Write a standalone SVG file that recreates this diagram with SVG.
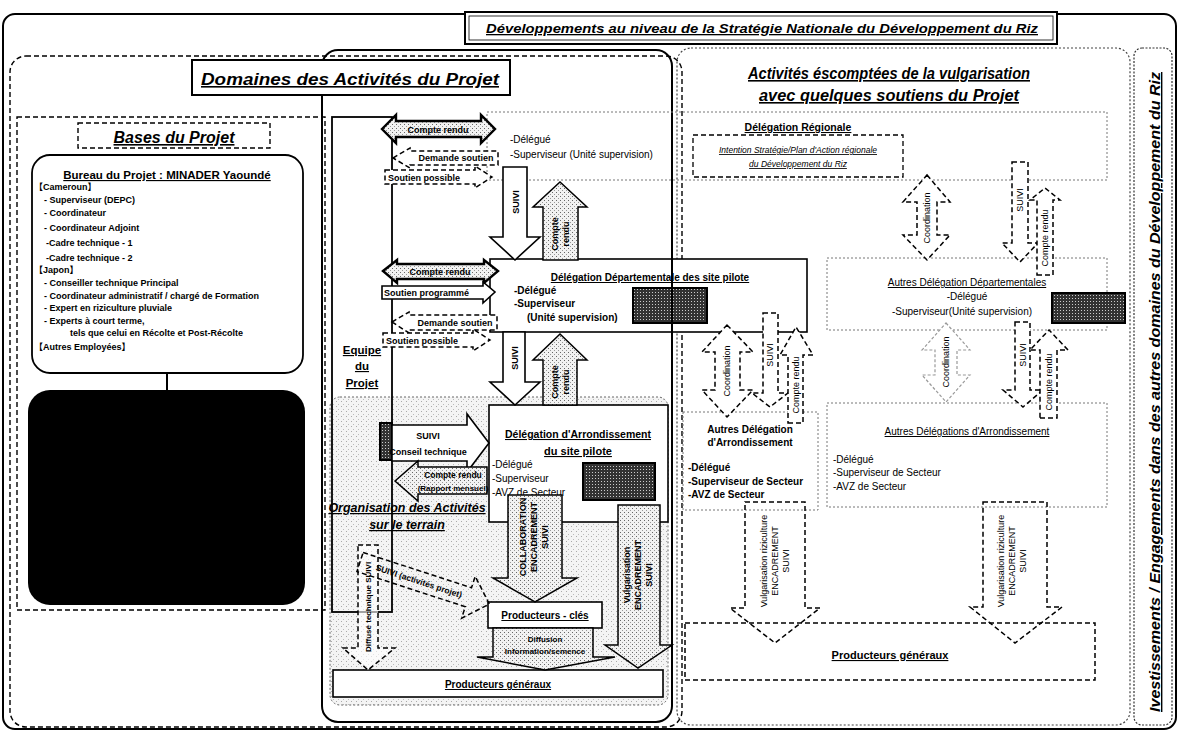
<svg xmlns="http://www.w3.org/2000/svg" width="1180" height="733" viewBox="0 0 1180 733">
<defs>
<pattern id="stip" width="4" height="4" patternUnits="userSpaceOnUse"><rect width="4" height="4" fill="#f2f2f2"/><rect x="0" y="0" width="1" height="1" fill="#666"/><rect x="2" y="2" width="1" height="1" fill="#999"/></pattern>
<pattern id="stipL" width="5" height="5" patternUnits="userSpaceOnUse"><rect width="5" height="5" fill="#f4f4f4"/><rect x="1" y="1" width="1" height="1" fill="#aaa"/><rect x="3" y="4" width="1" height="1" fill="#bbb"/></pattern>
<pattern id="stipD" width="3" height="3" patternUnits="userSpaceOnUse"><rect width="3" height="3" fill="#333"/><rect x="1" y="1" width="1" height="1" fill="#ccc"/></pattern>
</defs>
<style>
text{font-family:"Liberation Sans",Arial,"Noto Sans CJK JP",sans-serif;fill:#000}
.b{font-weight:bold}.i{font-style:italic}.u{text-decoration:underline}
.m{text-anchor:middle}
.s9{font-size:9px}.s10{font-size:10px}.s11{font-size:11px}
.solid{fill:#fff;stroke:#000;stroke-width:1.6}
.thick{fill:url(#stip);stroke:#000;stroke-width:2.4}
.stp{fill:url(#stip);stroke:#000;stroke-width:1.5}
.dash{fill:#fff;stroke:#000;stroke-width:1.5;stroke-dasharray:5 3}
.dashd{fill:none;stroke:#000;stroke-width:1.4;stroke-dasharray:5 3}
.lite{fill:#fff;stroke:#999;stroke-width:1.2;stroke-dasharray:3 2}
.dark{fill:url(#stipD);stroke:#000;stroke-width:2}
</style>

<g id="frames">
<rect x="3" y="14" width="1173" height="715" rx="12" fill="#fff" stroke="#000" stroke-width="2"/>
<rect x="10" y="56" width="672" height="671" rx="16" class="dashd"/>
<rect x="677" y="48" width="453" height="677" rx="14" fill="none" stroke="#444" stroke-width="1.2" stroke-dasharray="2 2"/>
<rect x="1134" y="48" width="38" height="677" rx="8" fill="none" stroke="#333" stroke-width="1.2" stroke-dasharray="2 1.5"/>
<rect x="322" y="50" width="350" height="672" rx="16" fill="none" stroke="#000" stroke-width="2"/>
<rect x="330" y="397" width="338" height="308" rx="10" fill="url(#stipL)" stroke="#666" stroke-width="1" stroke-dasharray="2 2"/>
<rect x="17" y="117" width="308" height="493" class="dashd"/>
</g>

<g id="banner">
<rect x="465" y="12" width="592" height="32" fill="#fff" stroke="#000" stroke-width="2"/>
<rect x="469" y="16" width="584" height="24" fill="none" stroke="#000" stroke-width="0.8"/>
<text x="762" y="33" class="m b i u" font-size="13" textLength="552" lengthAdjust="spacingAndGlyphs">Développements au niveau de la Stratégie  Nationale du Développement du Riz</text>
</g>

<g id="title-domaines">
<rect x="192" y="60" width="318" height="35" fill="#fff" stroke="#000" stroke-width="2"/>
<text x="350" y="85" class="m b i u" font-size="16" textLength="298" lengthAdjust="spacingAndGlyphs">Domaines des Activités du Projet</text>
</g>

<g id="title-vulg">
<text x="889" y="79" class="m b i u" font-size="16" textLength="282" lengthAdjust="spacingAndGlyphs">Activités éscomptées de la vulgarisation</text>
<text x="889" y="101" class="m b i u" font-size="16" textLength="260" lengthAdjust="spacingAndGlyphs">avec quelques soutiens du Projet</text>
</g>

<g id="title-invest">
<text transform="translate(1160,392) rotate(-90)" x="0" y="0" class="m b i u" font-size="14" textLength="640" lengthAdjust="spacingAndGlyphs">Ivestissements / Engagements dans des autres domaines du Développement du Riz</text>
</g>

<g id="bases-title">
<rect x="78" y="123" width="192" height="25" class="dashd"/>
<text x="174" y="143" class="m b i u" font-size="16">Bases du Projet</text>
</g>

<g id="bureau">
<rect x="32" y="155" width="271" height="218" rx="18" fill="#fff" stroke="#000" stroke-width="1.8"/>
<text x="167" y="179" class="m b u" font-size="11.5">Bureau du Projet : MINADER Yaoundé</text>
<g class="b" font-size="9">
<text x="34" y="190">【Cameroun】</text>
<text x="44" y="203">- Superviseur (DEPC)</text>
<text x="44" y="216">- Coordinateur</text>
<text x="44" y="231">- Coordinateur Adjoint</text>
<text x="46" y="246">-Cadre technique - 1</text>
<text x="46" y="261">-Cadre technique - 2</text>
<text x="34" y="273">【Japon】</text>
<text x="44" y="286">- Conseiller technique Principal</text>
<text x="44" y="299">- Coordinateur administratif / chargé de Formation</text>
<text x="44" y="311">- Expert en riziculture pluviale</text>
<text x="44" y="324">- Experts à court terme,</text>
<text x="70" y="336">tels que celui en Récolte et Post-Récolte</text>
<text x="34" y="350">【Autres Employées】</text>
</g>
</g>
<g id="blackbox">
<line x1="167" y1="373" x2="167" y2="390" stroke="#000" stroke-width="2"/>
<rect x="28" y="390" width="277" height="215" rx="22" fill="#000"/>
</g>

<g id="equipe">
<rect x="332" y="117" width="60" height="495" fill="none" stroke="#000" stroke-width="1.8"/>
<text x="362" y="354" class="m b u" font-size="11.5">Equipe</text>
<text x="362" y="370" class="m b u" font-size="11.5">du</text>
<text x="362" y="387" class="m b u" font-size="11.5">Projet</text>
</g>
<g id="organisation">
<text x="407" y="512" class="m b i u" font-size="12.5">Organisation des Activités</text>
<text x="407" y="529" class="m b i u" font-size="12.5">sur le terrain</text>
</g>

<g id="regionale">
<rect x="487" y="112" width="620" height="68" fill="none" stroke="#777" stroke-width="1" stroke-dasharray="2 2"/>
<text x="510" y="143" class="s10">-Délégué</text>
<text x="510" y="158" class="s10">-Superviseur (Unité supervision)</text>
<text x="798" y="131" class="m b u" font-size="10.5">Délégation Régionale</text>
<rect x="693" y="135" width="210" height="42" fill="#fff" stroke="#000" stroke-width="1.3" stroke-dasharray="5 3"/>
<text x="798" y="153" class="m i u" font-size="8.5">Intention Stratégie/Plan d'Action régionale</text>
<text x="798" y="167" class="m i u" font-size="8.5">du Développement du Riz</text>
</g>

<g id="dept">
<rect x="490" y="259" width="317" height="73" fill="#fff" stroke="#000" stroke-width="1.6"/>
<text x="650" y="281" class="m b u s10">Délégation Départementale des site pilote</text>
<text x="514" y="294" class="b s10">-Délégué</text>
<text x="514" y="307" class="b s10">-Superviseur</text>
<text x="527" y="321" class="b s10">(Unité supervision)</text>
<rect x="633" y="288" width="74" height="35" class="dark"/>
<line x1="672" y1="259" x2="672" y2="332" stroke="#000" stroke-width="2"/>
</g>

<g id="arr">
<rect x="489" y="405" width="179" height="117" fill="#fff" stroke="#000" stroke-width="1.6"/>
<text x="578" y="438" class="m b u" font-size="10.5">Délégation d'Arrondissement</text>
<text x="578" y="455" class="m b u" font-size="11">du site pilote</text>
<text x="492" y="468" class="s10">-Délégué</text>
<text x="492" y="482" class="s10">-Superviseur</text>
<text x="492" y="496" class="s10">-AVZ de Secteur</text>
<rect x="583" y="463" width="72" height="37" class="dark"/>
</g>

<g id="prodcles">
<rect x="488" y="602" width="114" height="26" fill="#fff" stroke="#000" stroke-width="1.6"/>
<text x="545" y="619" class="m b u s10">Producteurs - clés</text>
</g>
<g id="prodgen1">
<rect x="333" y="670" width="330" height="27" fill="#fff" stroke="#000" stroke-width="1.6"/>
<text x="498" y="688" class="m b u s10">Producteurs généraux</text>
</g>

<g id="autresdept">
<rect x="827" y="258" width="280" height="72" fill="#fff" stroke="#777" stroke-width="1" stroke-dasharray="2 2"/>
<text x="967" y="286" class="m u s10">Autres Délégation Départementales</text>
<text x="967" y="300" class="m s10">-Délégué</text>
<text x="962" y="315" class="m s10">-Superviseur(Unité supervision)</text>
<rect x="1052" y="293" width="73" height="30" class="dark"/>
</g>
<g id="autresarr1">
<rect x="683" y="412" width="135" height="98" fill="#fff" stroke="#777" stroke-width="1" stroke-dasharray="2 2"/>
<text x="750" y="433" class="m b s10">Autres Délégation</text>
<text x="750" y="446" class="m b s10">d'Arrondissement</text>
<text x="688" y="471" class="b s10">-Délégué</text>
<text x="688" y="485" class="b s10">-Superviseur de Secteur</text>
<text x="688" y="498" class="b s10">-AVZ de Secteur</text>
</g>
<g id="autresarr2">
<rect x="827" y="403" width="280" height="104" fill="#fff" stroke="#777" stroke-width="1" stroke-dasharray="2 2"/>
<text x="967" y="435" class="m u s10">Autres Délégations d'Arrondissement</text>
<text x="833" y="463" class="s10">-Délégué</text>
<text x="833" y="476" class="s10">-Superviseur de Secteur</text>
<text x="833" y="490" class="s10">-AVZ de Secteur</text>
</g>
<g id="prodgen2">
<rect x="685" y="623" width="410" height="57" class="dash"/>
<text x="890" y="659" class="m b u s11">Producteurs généraux</text>
</g>

<g id="connectors">
<polygon class="thick" points="382,129 396,115 396,121 481,121 481,115 495,129 481,143 481,137 396,137 396,143"/>
<text x="438" y="133" class="m b s9">Compte rendu</text>
<polygon class="dash" points="393,158 410,148 410,151 498,151 498,165 410,165 410,168"/>
<text x="456" y="161" class="m b s9">Demande soutien</text>
<polygon class="dash" points="385,170 475,170 475,166 492,177 475,188 475,184 385,184"/>
<text x="388" y="181" class="b s9">Soutien possible</text>
<polygon class="solid" points="503,167 527,167 527,237 540,237 515,260 490,237 503,237"/>
<text transform="translate(519,202) rotate(-90)" class="m b s9">SUIVI</text>
<polygon class="stp" points="543,260 578,260 578,207 587,207 560,182 533,207 543,207"/>
<text transform="translate(558,234) rotate(-90)" class="m b s9">Compte</text>
<text transform="translate(569,234) rotate(-90)" class="m b s9">rendu</text>

<polygon class="thick" points="383,271 397,260 397,264 484,264 484,260 498,271 484,283 484,279 397,279 397,283"/>
<text x="440" y="275" class="m b s9">Compte rendu</text>
<polygon class="solid" points="382,286 483,286 483,282 495,292 483,303 483,299 382,299"/>
<text x="384" y="296" class="b s9">Soutien programmé</text>
<polygon class="dash" points="392,322 409,312 409,315 497,315 497,330 409,330 409,333"/>
<text x="455" y="326" class="m b s9">Demande soutien</text>
<polygon class="dash" points="383,333 473,333 473,329 490,340 473,351 473,347 383,347"/>
<text x="386" y="344" class="b s9">Soutien possible</text>
<polygon class="solid" points="503,332 525,332 525,382 540,382 515,405 490,382 503,382"/>
<text transform="translate(518,358) rotate(-90)" class="m b s9">SUIVI</text>
<polygon class="stp" points="543,405 577,405 577,360 587,360 560,334 533,360 543,360"/>
<text transform="translate(558,382) rotate(-90)" class="m b s9">Compte</text>
<text transform="translate(569,382) rotate(-90)" class="m b s9">rendu</text>

<rect x="380" y="423" width="12" height="37" class="dark"/>
<polygon class="solid" points="392,425 467,425 467,414 489,443 467,472 467,461 392,461"/>
<text x="428" y="439" class="m b s9">SUIVI</text>
<text x="428" y="455" class="m b s9">Conseil technique</text>
<polygon class="stp" points="395,481 418,461 418,467 487,467 487,494 418,494 418,501"/>
<text x="453" y="478" class="m b" font-size="8.5">Compte rendu</text>
<text x="453" y="491" class="m b" font-size="8">(Rapport mensuel)</text>

<polygon class="stp" points="508,495 562,495 562,578 577,578 535,602 493,578 508,578"/>
<text transform="translate(526,537) rotate(-90)" class="m b s9">COLLABORATION</text>
<text transform="translate(537,537) rotate(-90)" class="m b s9">ENCADREMENT</text>
<text transform="translate(548,537) rotate(-90)" class="m b s9">SUIVI</text>
<polygon class="stp" points="493,628 593,628 593,657 615,657 545,670 477,657 493,657"/>
<text x="545" y="642" class="m b" font-size="8">Diffusion</text>
<text x="545" y="654" class="m b" font-size="8">Information/semence</text>
<polygon class="stp" points="618,505 660,505 660,645 672,645 638,668 605,645 618,645"/>
<text transform="translate(630,575) rotate(-90)" class="m b s9">Vulgarisation</text>
<text transform="translate(641,575) rotate(-90)" class="m b s9">ENCADREMENT</text>
<text transform="translate(652,575) rotate(-90)" class="m b s9">SUIVI</text>

<polygon class="dash" fill-opacity="0.6" points="358,545 378,545 378,648 395,648 368,670 343,648 358,648"/>
<text transform="translate(371,607) rotate(-90)" class="m b" font-size="8">Diffusé technique  SUIVI</text>
<g transform="translate(360,562) rotate(18)">
<polygon class="dash" style="fill:none" points="0,-10 114,-10 114,-22 136,0 114,22 114,10 0,10"/>
<text x="62" y="3" class="m b" font-size="8.5">SUIVI (activités projet)</text>
</g>

<polygon class="dash" points="927,175 950,202 937,202 937,235 950,235 927,260 903,235 917,235 917,202 903,202"/>
<text transform="translate(930,218) rotate(-90)" class="m s9">Coordination</text>
<polygon class="dash" points="1012,162 1028,162 1028,243 1038,243 1020,262 1002,243 1012,243"/>
<text transform="translate(1023,200) rotate(-90)" class="m s9">SUIVI</text>
<polygon class="dash" points="1037,275 1053,275 1053,200 1060,200 1045,188 1030,200 1037,200"/>
<text transform="translate(1048,238) rotate(-90)" class="m s9">Compte rendu</text>

<polygon class="dash" points="727,325 753,352 740,352 740,390 753,390 727,417 702,390 715,390 715,352 702,352"/>
<text transform="translate(730,371) rotate(-90)" class="m s9">Coordination</text>
<polygon class="dash" points="763,313 778,313 778,393 788,393 770,407 752,393 763,393"/>
<text transform="translate(773,355) rotate(-90)" class="m s9">SUIVI</text>
<polygon class="dash" points="788,423 803,423 803,355 813,355 796,327 780,355 788,355"/>
<text transform="translate(799,385) rotate(-90)" class="m s9">Compte rendu</text>

<polygon class="lite" points="946,323 970,350 957,350 957,375 970,375 946,402 922,375 935,375 935,350 922,350"/>
<text transform="translate(949,362) rotate(-90)" class="m s9">Coordination</text>
<polygon class="dash" points="1015,322 1030,322 1030,390 1043,390 1023,407 1003,390 1015,390"/>
<text transform="translate(1026,355) rotate(-90)" class="m s9">SUIVI</text>
<polygon class="dash" points="1040,418 1057,418 1057,350 1068,350 1049,330 1030,350 1040,350"/>
<text transform="translate(1052,382) rotate(-90)" class="m s9">Compte rendu</text>

<polygon class="dash" style="fill:none" points="745,502 805,502 805,608 820,608 775,643 730,608 745,608"/>
<text transform="translate(767,561) rotate(-90)" class="m s9">Vulgarisation riziculture</text>
<text transform="translate(778,561) rotate(-90)" class="m s9">ENCADREMENT</text>
<text transform="translate(789,561) rotate(-90)" class="m s9">SUIVI</text>
<polygon class="dash" style="fill:none" points="983,502 1047,502 1047,607 1062,607 1015,643 970,607 983,607"/>
<text transform="translate(1004,561) rotate(-90)" class="m s9">Vulgarisation riziculture</text>
<text transform="translate(1015,561) rotate(-90)" class="m s9">ENCADREMENT</text>
<text transform="translate(1026,561) rotate(-90)" class="m s9">SUIVI</text>
</g>
</svg>
